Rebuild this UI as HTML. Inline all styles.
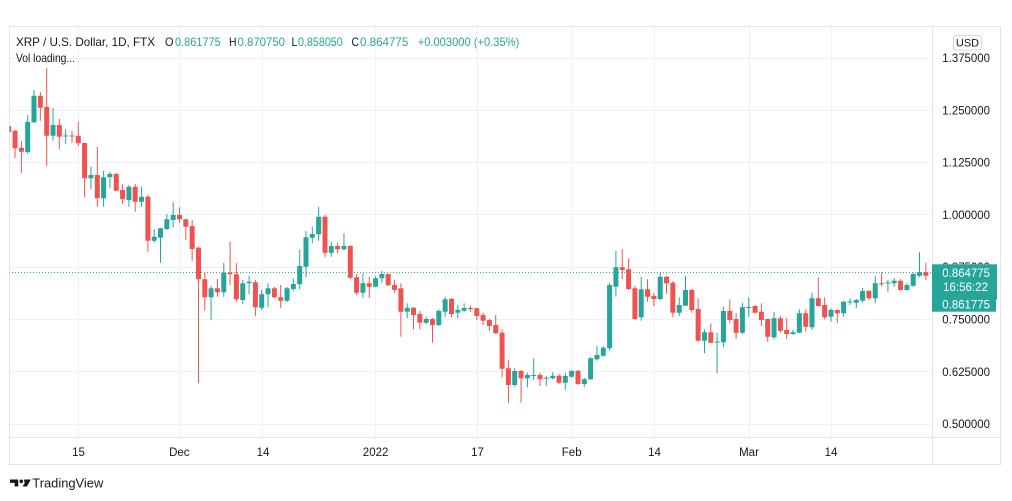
<!DOCTYPE html>
<html>
<head>
<meta charset="utf-8">
<style>
html,body{margin:0;padding:0;background:#fff;}
svg{display:block;}
text{font-family:"Liberation Sans",sans-serif;}
</style>
</head>
<body>
<svg width="1012" height="501" viewBox="0 0 1012 501" xmlns="http://www.w3.org/2000/svg">
<defs>
<clipPath id="pane"><rect x="9.5" y="26.5" width="922.5" height="411"/></clipPath>
</defs>
<rect width="1012" height="501" fill="#fff"/>
<!-- grid -->
<g stroke="#eef0f4" stroke-width="1">
<path d="M10 58.5H932M10 110.5H932M10 162.5H932M10 214.5H932M10 267.5H932M10 319.5H932M10 371.5H932M10 424.5H932"/>
<path d="M78.5 27V437M179.5 27V437M262.5 27V437M375.5 27V437M477.5 27V437M571.5 27V437M654.5 27V437M749.5 27V437M831.5 27V437"/>
</g>
<!-- frame -->
<rect x="9.5" y="26.5" width="991" height="438" fill="none" stroke="#e0e3eb"/>
<line x1="932.5" y1="26" x2="932.5" y2="465" stroke="#e0e3eb"/>
<line x1="9" y1="437.5" x2="1001" y2="437.5" stroke="#e0e3eb"/>

<!-- candles -->
<g clip-path="url(#pane)">
<path fill="none" stroke="#26a69a" stroke-width="1" d="M27.7 115V154 M34 90V123 M53 108V140.7 M65.65 129V144 M90.95 166.7V189.3 M103.6 170.7V206.7 M109.9 171.7V188.3 M128.9 185V206.7 M141.55 186.7V206.7 M154.2 229.3V242.7 M160.5 228V262.7 M166.85 214V230 M173.2 202.3V227.3 M211.1 286V320 M223.8 262.7V296.7 M242.75 280V304.3 M249.1 275.7V294.3 M261.7 290V310 M268.05 283.3V307.3 M287 287V302 M293.35 278.3V290.7 M299.7 249.3V289.3 M306 231V277.3 M312.3 226.7V243.3 M318.65 206.7V240.7 M331.3 241.7V256.7 M343.95 233.3V250.7 M362.9 273.3V297.7 M375.6 276V287.3 M381.9 271V282.7 M407.2 303.3V318.3 M426.2 316.7V324 M438.8 309.3V326 M445.15 296.7V316.7 M457.8 305V318.3 M464.1 303.3V311.7 M514.7 368.3V386.7 M527.4 372.7V387.3 M533.7 358.3V380 M546.35 376V386 M552.7 372.3V379.3 M565.3 372.7V390 M571.65 370V377.5 M584.3 378V387.3 M590.6 357.3V380 M596.95 346V360.7 M603.3 346V356.7 M609.6 282.7V350.7 M615.9 251V296.7 M641.2 276.7V320.7 M660.2 272.7V300 M679.2 297.3V316 M685.5 276V306 M704.5 329.3V353.3 M717.1 332.7V373.3 M723.45 306.7V347.3 M742.4 302.7V334 M748.75 297.3V316.7 M774.05 311.7V339.3 M793 330V335 M799.35 309.3V333.3 M812 292.7V330 M831 308.3V321.7 M843.6 300.7V316.7 M849.95 298.3V305 M856.3 299V308.3 M862.6 287.7V302.7 M875.25 276V303.3 M887.9 280V291.7 M894.2 278.3V286.7 M906.9 283.3V290.7 M913.2 272.7V286.7 M919.5 252.3V276.7"/>
<path fill="#26a69a" d="M25.2 122h5V152h-5zM31.5 95.7h5V122.3h-5zM50.5 125h5V135.7h-5zM63.15 135.5h5V136.5h-5zM88.45 175h5V178.3h-5zM101.1 177.3h5V198.3h-5zM107.4 174h5V177.3h-5zM126.4 186.7h5V200h-5zM139.05 196.7h5V201.7h-5zM151.7 236.7h5V240.7h-5zM158 228.3h5V237.7h-5zM164.35 219.3h5V229h-5zM170.7 215h5V220h-5zM208.6 288.3h5V297.3h-5zM221.3 272.7h5V292.3h-5zM240.25 283.3h5V300h-5zM246.6 281.7h5V283.3h-5zM259.2 294.3h5V307.7h-5zM265.55 288.3h5V294.3h-5zM284.5 288.3h5V300.7h-5zM290.85 284h5V289h-5zM297.2 266h5V284.3h-5zM303.5 237.3h5V266.7h-5zM309.8 234h5V237.7h-5zM316.15 216.7h5V234.3h-5zM328.8 246h5V252.7h-5zM341.45 246h5V249.3h-5zM360.4 283.3h5V292.7h-5zM373.1 278.3h5V286.7h-5zM379.4 274h5V278.3h-5zM404.7 307.7h5V311.7h-5zM423.7 319h5V322.7h-5zM436.3 311h5V325h-5zM442.65 299.3h5V311.7h-5zM455.3 310h5V312.7h-5zM461.6 308h5V310.7h-5zM512.2 371h5V385h-5zM524.9 375h5V378.3h-5zM531.2 375h5V376h-5zM543.85 377.7h5V378.7h-5zM550.2 375.7h5V378.3h-5zM562.8 376h5V382.7h-5zM569.15 371h5V376.7h-5zM581.8 379.3h5V384h-5zM588.1 358.3h5V379.3h-5zM594.45 355h5V359.3h-5zM600.8 347.7h5V355.7h-5zM607.1 285h5V348.3h-5zM613.4 267.3h5V286.7h-5zM638.7 289.3h5V317.3h-5zM657.7 276.7h5V299h-5zM676.7 305h5V312.7h-5zM683 290h5V305.7h-5zM702 332.3h5V340.7h-5zM714.6 341.5h5V342.5h-5zM720.95 311h5V342.3h-5zM739.9 307.3h5V332.7h-5zM746.25 307h5V308h-5zM771.55 318.3h5V337.3h-5zM790.5 332.3h5V334h-5zM796.85 313.3h5V332.7h-5zM809.5 298.3h5V327.3h-5zM828.5 310h5V316.7h-5zM841.1 301.7h5V313.3h-5zM847.45 301.5h5V302.5h-5zM853.8 300h5V302.7h-5zM860.1 291h5V300.7h-5zM872.75 283.3h5V298.3h-5zM885.4 282.5h5V283.5h-5zM891.7 280.7h5V283.3h-5zM904.4 285h5V290h-5zM910.7 274h5V285.7h-5zM917 272.3h5V275.7h-5z"/>
<path fill="none" stroke="#ef5350" stroke-width="1" d="M8.7 125V133 M15.05 130V158 M21.4 141V172.7 M40.35 92V120.7 M46.7 68V165.7 M59.3 119V149.3 M72 131V143 M78.3 121.7V146 M84.6 143V197.3 M97.3 147V206.7 M116.25 173V191 M122.6 184V204 M135.2 184V211.7 M147.9 195V251.7 M179.5 207.3V222.7 M185.8 219V240 M192.15 220V260.7 M198.5 246.7V383.3 M204.8 271.7V310.7 M217.45 279V296.7 M230.1 241.7V285 M236.4 263.3V301.7 M255.4 280V316 M274.4 287V298 M280.7 285V308.3 M325 215V257.3 M337.6 242.7V253.3 M350.3 245V279.3 M356.6 274V295 M369.25 276.7V297.7 M388.2 273.5V286 M394.55 280V292.7 M400.9 283.3V336.7 M413.5 307V329.3 M419.85 310.7V329.3 M432.5 318V342.7 M451.5 298V317.3 M470.45 305.7V311.7 M476.8 307.5V320 M483.1 312.7V325 M489.4 319V330.7 M495.75 315V334 M502.1 329.3V377.3 M508.4 360V403.3 M521.05 370V402.7 M540 372.7V386 M559 374V384 M578 370V385 M622.25 249.3V279.3 M628.6 258.3V290 M634.9 286V320 M647.55 279.3V301.7 M653.9 292.7V306 M666.5 276V294 M672.85 281V317.3 M691.8 289V312.7 M698.15 298.3V341.7 M710.8 323.3V343.3 M729.8 299.3V323.3 M736.1 313.3V339 M755.1 305V313.5 M761.4 303.3V326 M767.7 319V341.7 M780.4 316V332.7 M786.7 318.3V339.3 M805.7 309.3V331.7 M818.3 277.3V306.7 M824.65 297.3V319.3 M837.3 309.5V323.3 M868.9 290V300 M881.6 272.3V286 M900.55 279.3V290.7 M925.85 262.7V280"/>
<path fill="#ef5350" d="M6.2 126h5V132h-5zM12.55 130.7h5V148.3h-5zM18.9 147.7h5V151.7h-5zM37.85 95.7h5V107.7h-5zM44.2 107h5V135.7h-5zM56.8 125h5V136.7h-5zM69.5 135.5h5V136.5h-5zM75.8 136h5V143.3h-5zM82.1 143h5V178.3h-5zM94.8 175h5V198.3h-5zM113.75 174h5V190.7h-5zM120.1 190h5V199.3h-5zM132.7 186.7h5V201.7h-5zM145.4 196.7h5V240.7h-5zM177 215h5V219.3h-5zM183.3 219.3h5V226.7h-5zM189.65 226h5V249h-5zM196 247.7h5V279.3h-5zM202.3 279.3h5V297.3h-5zM214.95 288.3h5V292.3h-5zM227.6 272.7h5V274.3h-5zM233.9 274.3h5V299.3h-5zM252.9 282.3h5V307.3h-5zM271.9 288.3h5V297.3h-5zM278.2 297.3h5V300.7h-5zM322.5 216.7h5V252.7h-5zM335.1 246h5V249.3h-5zM347.8 246h5V277.7h-5zM354.1 277.3h5V292.7h-5zM366.75 283.3h5V286.7h-5zM385.7 274h5V285.3h-5zM392.05 285h5V290h-5zM398.4 288.3h5V311.7h-5zM411 307.7h5V315h-5zM417.35 314h5V322.7h-5zM430 319h5V325h-5zM449 299h5V314h-5zM467.95 308h5V309h-5zM474.3 308.3h5V316h-5zM480.6 315h5V320.7h-5zM486.9 320h5V326h-5zM493.25 325h5V333.3h-5zM499.6 332.7h5V368.7h-5zM505.9 368.3h5V385h-5zM518.55 371h5V378.3h-5zM537.5 375h5V379.3h-5zM556.5 375.7h5V382.7h-5zM575.5 370.7h5V384h-5zM619.75 267.3h5V270h-5zM626.1 269.3h5V289h-5zM632.4 288.3h5V319h-5zM645.05 289.3h5V296.7h-5zM651.4 296h5V299h-5zM664 276.7h5V283.3h-5zM670.35 282.7h5V312.7h-5zM689.3 290h5V310h-5zM695.65 309h5V340.7h-5zM708.3 332.3h5V342.7h-5zM727.3 311h5V320h-5zM733.6 319h5V332.7h-5zM752.6 306h5V312.7h-5zM758.9 311.7h5V320h-5zM765.2 319h5V336.7h-5zM777.9 318.3h5V330.7h-5zM784.2 330h5V334h-5zM803.2 313.3h5V326.7h-5zM815.8 298.3h5V306h-5zM822.15 305h5V317.3h-5zM834.8 310h5V313.3h-5zM866.4 291h5V298.3h-5zM879.1 283.3h5V284.3h-5zM898.05 280.7h5V290h-5zM923.35 272.3h5V275.7h-5z"/>
<!-- price line -->
<line x1="9" y1="272.5" x2="932" y2="272.5" stroke="#26a69a" stroke-width="1" stroke-dasharray="1 2"/>
</g>

<!-- header legend -->
<g font-size="12" fill="#131722">
<text x="16" y="46" textLength="139" lengthAdjust="spacingAndGlyphs">XRP / U.S. Dollar, 1D, FTX</text>
<text x="165" y="46" textLength="8.5" lengthAdjust="spacingAndGlyphs">O</text>
<text x="175" y="46" fill="#26a69a" textLength="45.7" lengthAdjust="spacingAndGlyphs">0.861775</text>
<text x="229" y="46" textLength="7.5" lengthAdjust="spacingAndGlyphs">H</text>
<text x="237.5" y="46" fill="#26a69a" textLength="47.5" lengthAdjust="spacingAndGlyphs">0.870750</text>
<text x="291.5" y="46" textLength="6" lengthAdjust="spacingAndGlyphs">L</text>
<text x="298" y="46" fill="#26a69a" textLength="44.7" lengthAdjust="spacingAndGlyphs">0.858050</text>
<text x="351.5" y="46" textLength="7.5" lengthAdjust="spacingAndGlyphs">C</text>
<text x="360" y="46" fill="#26a69a" textLength="48.3" lengthAdjust="spacingAndGlyphs">0.864775</text>
<text x="417.7" y="46" fill="#26a69a" textLength="101.6" lengthAdjust="spacingAndGlyphs">+0.003000 (+0.35%)</text>
<text x="16" y="62" textLength="59" lengthAdjust="spacingAndGlyphs">Vol loading...</text>
</g>

<!-- USD badge -->
<rect x="953.5" y="35.5" width="28" height="14.5" rx="2.5" fill="#fff" stroke="#d1d4dc"/>
<text x="967.5" y="46.5" font-size="11" fill="#131722" text-anchor="middle">USD</text>

<!-- price axis labels -->
<g font-size="11.5" fill="#131722">
<text x="942.3" y="62" textLength="47.7" lengthAdjust="spacingAndGlyphs">1.375000</text>
<text x="942.3" y="114.3" textLength="47.7" lengthAdjust="spacingAndGlyphs">1.250000</text>
<text x="942.3" y="166.6" textLength="47.7" lengthAdjust="spacingAndGlyphs">1.125000</text>
<text x="942.3" y="218.9" textLength="47.7" lengthAdjust="spacingAndGlyphs">1.000000</text>
<text x="942.3" y="271.2" textLength="47.7" lengthAdjust="spacingAndGlyphs">0.875000</text>
<text x="942.3" y="323.5" textLength="47.7" lengthAdjust="spacingAndGlyphs">0.750000</text>
<text x="942.3" y="375.8" textLength="47.7" lengthAdjust="spacingAndGlyphs">0.625000</text>
<text x="942.3" y="428.1" textLength="47.7" lengthAdjust="spacingAndGlyphs">0.500000</text>
</g>

<!-- current price labels -->
<rect x="932" y="264.3" width="65" height="35.2" fill="#26a69a"/>
<rect x="932" y="299.5" width="64" height="12.2" fill="#26a69a"/>
<g font-size="11.5" fill="#fff">
<text x="942.3" y="276.8" textLength="47.7" lengthAdjust="spacingAndGlyphs">0.864775</text>
<text x="943" y="290.8" textLength="45" lengthAdjust="spacingAndGlyphs">16:56:22</text>
<text x="942.3" y="308.3" textLength="47.7" lengthAdjust="spacingAndGlyphs">0.861775</text>
</g>

<!-- time axis labels -->
<g font-size="11.5" fill="#131722" text-anchor="middle">
<text x="78.5" y="456">15</text>
<text x="179.3" y="456">Dec</text>
<text x="263" y="456">14</text>
<text x="375.6" y="456">2022</text>
<text x="477.5" y="456">17</text>
<text x="571.7" y="456">Feb</text>
<text x="654.5" y="456">14</text>
<text x="749" y="456">Mar</text>
<text x="831" y="456">14</text>
</g>

<!-- TradingView logo -->
<g fill="#131722">
<path d="M10 479.5h8.2v7h-3.6v-3.6h-4.6z"/>
<circle cx="21.3" cy="481.3" r="1.8"/>
<path d="M24.2 479.5h6.6l-3.9 7h-4.2l2.4-4.3h-0.9z"/>
</g>
<text x="32.3" y="487.5" font-size="12.5" fill="#131722" textLength="71" lengthAdjust="spacingAndGlyphs">TradingView</text>
</svg>
</body>
</html>
